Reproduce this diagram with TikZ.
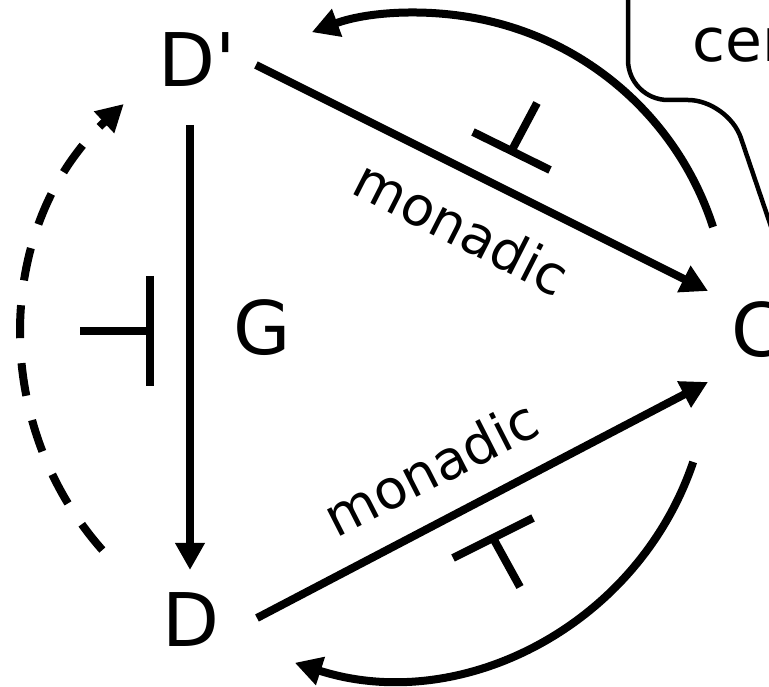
\documentclass[tikz,border=0pt]{standalone}
\usepackage{fontspec}
\setmainfont{DejaVu Sans}
\usetikzlibrary{arrows.meta,calc}
\begin{document}
\begin{tikzpicture}[x=1pt,y=1pt,
  lab/.style={font=\fontsize{74}{74}\selectfont, inner sep=0pt},
  mon/.style={font=\fontsize{54}{54}\selectfont, inner sep=0pt},
  arr/.style={line width=8pt, -{Triangle[length=27pt,width=28pt]}},
  thick8/.style={line width=8pt},
  callout/.style={line width=4.5pt, rounded corners=40pt}]
\useasboundingbox (0,0) rectangle (769,686);
\clip (0,0) rectangle (769,686);
% labels
\node[lab, anchor=base] (Dp) at (197,599) {D\textquotesingle};
\node[lab, anchor=base] (G) at (262,331) {G};
\node[lab, anchor=base] (D) at (191,39) {D};
\node[lab, anchor=base west] (C) at (731,329) {C};
\node[mon, anchor=base, rotate=-27] (m1) at (453,441) {monadic};
\node[mon, anchor=base, rotate=27] (m2) at (440,200) {monadic};
\node[font=\fontsize{60}{60}\selectfont, inner sep=0pt, anchor=base west] (cer) at (692,624) {cer};
% endpoints
\coordinate (a1) at (256,621); \coordinate (a2) at (708,395);
\coordinate (b1) at (257,68);  \coordinate (b2) at (708,304);
\coordinate (g1) at (190,561); \coordinate (g2) at (190,116);
% straight arrows
\draw[arr] (a1) -- (a2);
\draw[arr] (b1) -- (b2);
\draw[arr] (g1) -- (g2);
% adjunction symbols
\coordinate (p1) at (473,554); \coordinate (p2) at (550,516);
\coordinate (p3) at (512,536); \coordinate (p4) at (537,583);
\draw[thick8] (p1) -- (p2);
\draw[thick8] (p3) -- (p4);
\coordinate (q1) at (453,128); \coordinate (q2) at (533,168);
\coordinate (q3) at (493,148); \coordinate (q4) at (520,99);
\draw[thick8] (q1) -- (q2);
\draw[thick8] (q3) -- (q4);
\coordinate (r1) at (80,355); \coordinate (r2) at (150,355);
\coordinate (r3) at (150,410); \coordinate (r4) at (150,300);
\draw[thick8] (r1) -- (r2);
\draw[thick8] (r3) -- (r4);
% curved arrows
\coordinate (ctop) at (419,364);
\coordinate (cbot) at (392,326);
\coordinate (cdash) at (342,348);
\draw[arr] ($(ctop)+(17.9:309)$) arc[start angle=17.9, end angle=110.3, radius=309];
\draw[arr] ($(cbot)+(-18.7:318)$) arc[start angle=-18.7, end angle=-107.8, radius=318];
\draw[arr, dash pattern=on 33pt off 25pt] ($(cdash)+(221.5:320)$) arc[start angle=221.5, end angle=133, radius=320];
% callout
\coordinate (k1) at (628,700); \coordinate (k2) at (628,586);
\coordinate (k3) at (728,586); \coordinate (k4) at (780,433);
\draw[callout] (k1) -- (k2) -- (k3) -- (k4);
\end{tikzpicture}
\end{document}
